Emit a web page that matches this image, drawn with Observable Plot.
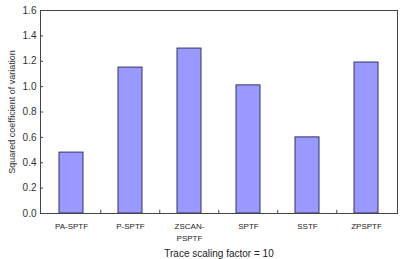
<!DOCTYPE html>
<html>
<head>
<meta charset="utf-8">
<script src="https://cdn.jsdelivr.net/npm/d3@7"></script>
<script src="https://cdn.jsdelivr.net/npm/@observablehq/plot@0.6"></script>
<style>
body { margin: 0; background: #fff; font-family: "Liberation Sans", Arial, sans-serif; position: relative; width: 401px; height: 259px; overflow: hidden; }
svg { display: block; }
#caption { position: absolute; left: 219px; top: 248px; transform: translateX(-50%); font-size: 10px; color: #222; white-space: nowrap; line-height: 12px; }
</style>
</head>
<body>
<div id="chart"></div>
<div id="caption">Trace scaling factor = 10</div>
<script>
const categories = ["PA-SPTF", "P-SPTF", "ZSCAN-PSPTF", "SPTF", "SSTF", "ZPSPTF"];
const tickLabels = ["PA-SPTF", "P-SPTF", "ZSCAN-\nPSPTF", "SPTF", "SSTF", "ZPSPTF"];
const values = [0.48, 1.15, 1.30, 1.01, 0.60, 1.19];
const yTicks = [0, 0.2, 0.4, 0.6, 0.8, 1.0, 1.2, 1.4, 1.6];

const data = categories.map((c, i) => ({category: c, value: values[i]}));

const chart = Plot.plot({
  width: 401,
  height: 246,
  marginLeft: 40,
  marginRight: 4,
  marginTop: 10,
  marginBottom: 33,
  style: {fontFamily: "Liberation Sans, Arial, sans-serif", background: "#fff"},
  x: {domain: categories, paddingInner: 0.59, paddingOuter: 0.295, label: null},
  y: {domain: [0, 1.6], label: null},
  marks: [
    Plot.barY(data, {x: "category", y: "value", fill: "#9999ff", stroke: "#333366", strokeWidth: 1}),
    Plot.axisY({ticks: yTicks, tickFormat: d3.format(".1f"), tickSize: -3, tickPadding: 7, fontSize: 10, color: "#333", stroke: "#444", label: null}),
    Plot.text(["Squared coefficient of variation"], {frameAnchor: "left", textAnchor: "middle", rotate: -90, dx: -28, fontSize: 9, fill: "#333"}),
    Plot.axisX({tickSize: 0, tickPadding: 8, fontSize: 8, fill: "#222", tickFormat: (d) => tickLabels[categories.indexOf(d)], label: null, lineHeight: 1.4}),
    Plot.ruleX(categories.slice(1), {x: (d) => d, dx: -29.75, y1: 0, y2: 0.025, stroke: "#444"}),
    Plot.frame({stroke: "#444", strokeWidth: 1})
  ]
});
document.getElementById("chart").appendChild(chart);
</script>
</body>
</html>
